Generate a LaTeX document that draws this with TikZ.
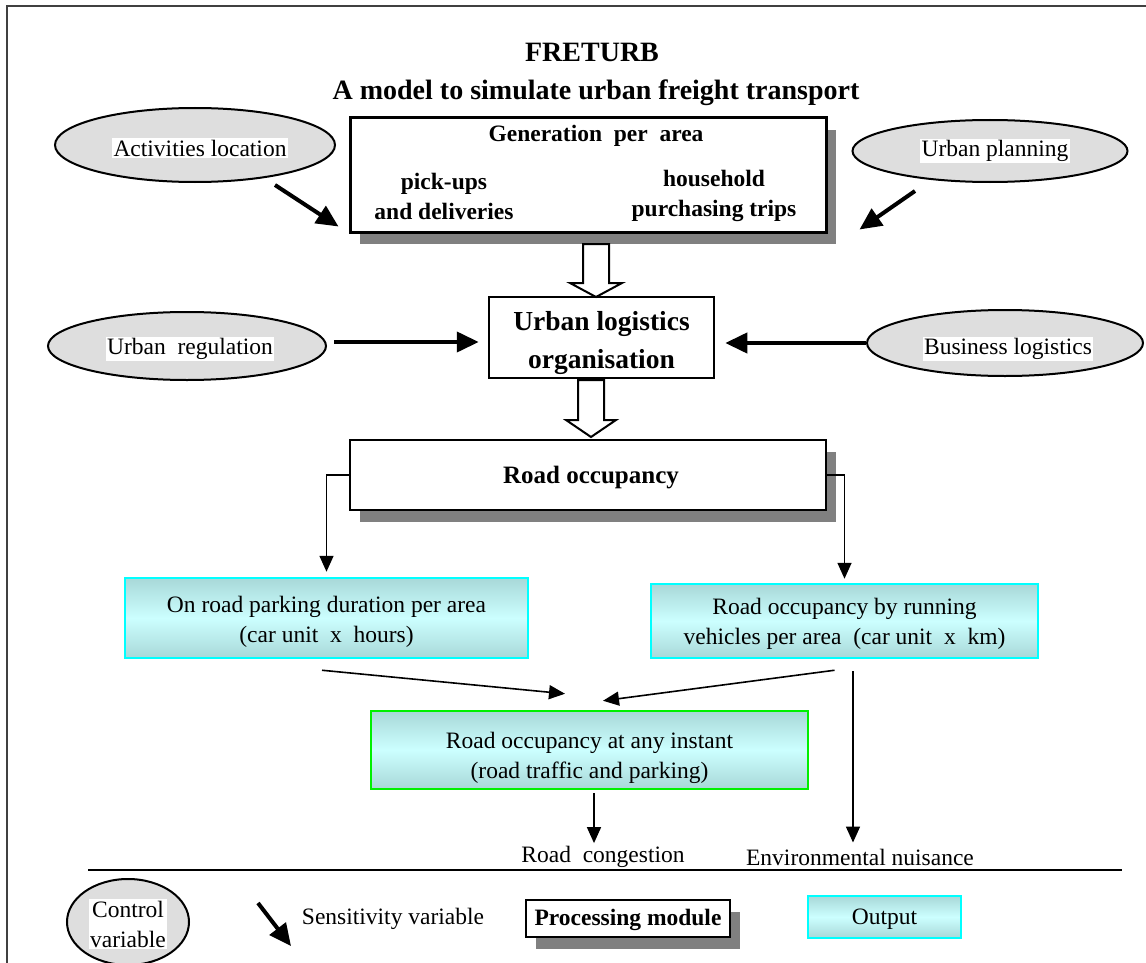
\documentclass[tikz,border=0pt]{standalone}
\usepackage{fontspec}
\setmainfont{Liberation Serif}
\usetikzlibrary{arrows.meta,shadows,shapes.geometric,calc}
\definecolor{cyL}{HTML}{CCFFFF}
\definecolor{cyD}{HTML}{A8D8D8}
\definecolor{cyB}{HTML}{00FFFF}
\definecolor{grB}{HTML}{00F000}
\definecolor{ellF}{HTML}{DEDEDE}
\begin{document}
\begin{tikzpicture}[x=1pt,y=-1pt,
  txt/.style={font=\fontsize{23.5}{30}\selectfont, align=center, inner sep=0pt},
  btxt/.style={txt, font=\fontsize{23.5}{30}\selectfont\bfseries},
  mod/.style={draw, line width=2.5pt, fill=white, inner sep=0pt},
  shad/.style={drop shadow={shadow xshift=10pt, shadow yshift=-12pt, fill=black!50, opacity=1}},
  outbox/.style={draw=cyB, line width=2.5pt, top color=cyD, bottom color=cyD, middle color=cyL, inner sep=0pt},
  grbox/.style={outbox, draw=grB},
  ctrl/.style={ellipse, draw, line width=2pt, fill=ellF, inner sep=0pt},
  ctxt/.style={txt, fill=white, inner sep=1.5pt},
  sens/.style={line width=4pt, -{Triangle[length=22pt,width=20pt]}},
  flow/.style={line width=1.6pt, -{Triangle[length=16pt,width=14pt]}},
  hollow/.style={draw, line width=2pt, fill=white, line join=miter}
]
\useasboundingbox (0,0) rectangle (1146,963);
\fill[white] (0,0) rectangle (1146,963);
% frame
\draw[line width=2.5pt, black!75] (7,963) -- (7,6) -- (1146,6);

% title
\node[txt, font=\fontsize{28}{34}\selectfont\bfseries] (t1) at (592,52) {FRETURB};
\node[txt, font=\fontsize{28}{34}\selectfont\bfseries] (t2) at (596,93) {A model to simulate urban freight transport};

% generation box
\node[mod, shad, line width=3pt, minimum width=476pt, minimum height=114pt] (gen) at (588,175) {};
\node[btxt] (gen-t) at (596,136) {Generation\ \ per\ \ area};
\node[btxt] (gen-l) at (444,196) {pick-ups\\and deliveries};
\node[btxt] (gen-r) at (714,196) {household\\purchasing trips};

% urban logistics
\node[mod, minimum width=225pt, minimum height=81pt] (ul) at (601.5,337.5) {};
\node[txt, font=\fontsize{27.5}{38}\selectfont\bfseries] (ul-t) at (601.5,343) {Urban logistics\\organisation};

% road occupancy
\node[mod, shad, minimum width=476pt, minimum height=70pt] (ro) at (588,475) {};
\node[btxt, font=\fontsize{25}{30}\selectfont\bfseries] (ro-t) at (591,478) {Road occupancy};

% outputs
\node[outbox, minimum width=403pt, minimum height=80pt] (cy1) at (326.5,618) {};
\node[txt] (cy1-t) at (326.5,622) {On road parking duration per area\\(car unit\ \ x\ \ hours)};
\node[outbox, minimum width=387pt, minimum height=74pt] (cy2) at (844.5,621) {};
\node[txt] (cy2-t) at (844.5,624) {Road occupancy by running\\vehicles per area\ \ (car unit\ \ x\ \ km)};
\node[grbox, minimum width=437pt, minimum height=78pt] (gr) at (589.5,750) {};
\node[txt] (gr-t) at (589.5,758) {Road occupancy at any instant\\(road traffic and parking)};

\node[txt] (rc) at (603,857) {Road\ \ congestion};
\node[txt] (en) at (860,857) {Environmental nuisance};

% control variables
\node[ctrl, minimum width=280pt, minimum height=74pt] (al) at (195,145) {};
\node[ctxt] (al-t) at (200,148) {Activities location};
\node[ctrl, minimum width=275pt, minimum height=62pt] (up) at (990,151) {};
\node[ctxt] (up-t) at (995,151) {Urban planning};
\node[ctrl, minimum width=278pt, minimum height=68pt] (ur) at (187,346) {};
\node[ctxt] (ur-t) at (190,349) {Urban\ \ regulation};
\node[ctrl, minimum width=276pt, minimum height=66pt] (bl) at (1005,343) {};
\node[ctxt] (bl-t) at (1008,349) {Business logistics};

% sensitivity arrows
\draw[sens] ($(al.south)+(80,2)$) -- ($(gen.south west)+(-10,-7)$);
\draw[sens] ($(up.south)+(-75,8)$) -- ($(gen.south east)+(32,-4)$);
\draw[sens] ($(ur.east)+(7,-4)$) -- ($(ul.west)+(-9,4.5)$);
\draw[sens] (bl.west) -- ($(ul.east)+(10,5.5)$);

% hollow arrows
\coordinate (h1a) at (596,244);
\coordinate (h1b) at (596,297);
\path[hollow] ($(h1a)+(-13,0)$) -- ($(h1a)+(13,0)$) -- ($(h1b)+(13,-14)$) -- ($(h1b)+(26,-14)$) -- (h1b) -- ($(h1b)+(-26,-14)$) -- ($(h1b)+(-13,-14)$) -- cycle;
\coordinate (h2a) at (591,380);
\coordinate (h2b) at (591,437);
\path[hollow] ($(h2a)+(-13,0)$) -- ($(h2a)+(13,0)$) -- ($(h2b)+(13,-17)$) -- ($(h2b)+(25,-17)$) -- (h2b) -- ($(h2b)+(-25,-17)$) -- ($(h2b)+(-13,-17)$) -- cycle;

% flow arrows
\draw[flow, shorten >=5pt] (ro.west) -| (cy1.north);
\draw[flow, shorten >=4pt] (ro.east) -| (cy2.north);
\draw[flow] ($(cy1.south)+(-4.5,11)$) -- ($(gr.north)+(-24.5,-16)$);
\draw[flow] ($(cy2.south)+(-10,11)$) -- ($(gr.north)+(13.5,-9)$);
\draw[flow] ($(cy2.south)+(8.5,12)$) -- ($(en.north)+(-7,-6)$);
\draw[flow] ($(gr.south)+(4.5,3)$) -- ($(rc.north)+(-9,-3)$);

% separator
\draw[line width=2.5pt] (88,870) -- (1122,870);

% legend
\node[ctrl, minimum width=122pt, minimum height=86pt] (lc) at (128,922) {};
\node[ctxt] (lc-t) at (128,924) {Control\\variable};
\coordinate (ls1) at (258,903);
\coordinate (ls2) at (291,946);
\draw[sens] (ls1) -- (ls2);
\node[txt] (ls-t) at (393,919) {Sensitivity variable};
\node[mod, shad, minimum width=204pt, minimum height=37pt] (lp) at (628,918.5) {};
\node[btxt] (lp-t) at (628,920) {Processing module};
\node[outbox, minimum width=153pt, minimum height=42pt] (lo) at (884.5,917) {};
\node[txt] (lo-t) at (884.5,919) {Output};
\end{tikzpicture}
\end{document}
